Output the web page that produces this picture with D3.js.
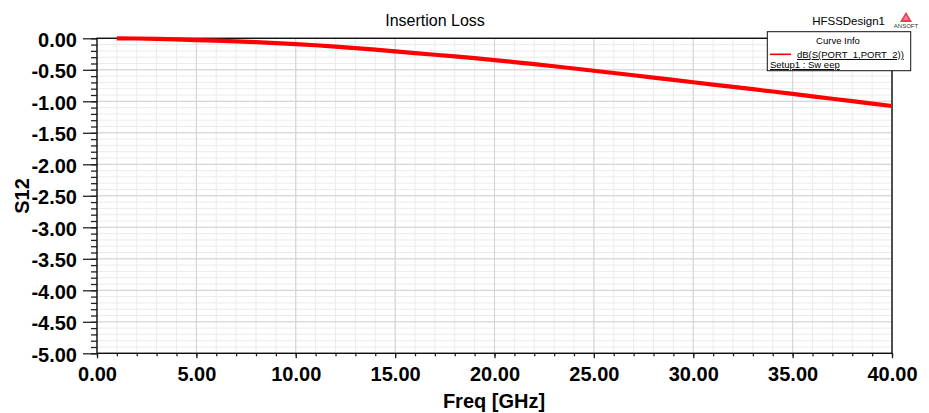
<!DOCTYPE html>
<html>
<head>
  <meta charset="utf-8" />
  <title>Insertion Loss</title>
  <style>
    body { margin: 0; background: #fff; }
    svg { display: block; font-family: Arial, "Liberation Sans", sans-serif; }
  </style>
</head>
<body>
  <svg id="chart" width="929" height="413"></svg>
  <script src="https://cdn.jsdelivr.net/npm/d3@7"></script>
  <script>
    // S12 curve (GHz, dB)
    var freq = [1, 2, 3, 4, 5, 6, 7, 8, 9, 10, 11, 12, 13, 14, 15, 16, 17, 18, 19, 20,
                21, 22, 23, 24, 25, 26, 27, 28, 29, 30, 31, 32, 33, 34, 35, 36, 37, 38, 39, 40]
    var s12 = [0.000, -0.003, -0.008, -0.016, -0.028, -0.038, -0.049, -0.062, -0.076, -0.092,
               -0.110, -0.131, -0.155, -0.181, -0.208, -0.235, -0.261, -0.288, -0.316, -0.345,
               -0.377, -0.410, -0.444, -0.479, -0.515, -0.551, -0.587, -0.623, -0.660, -0.697,
               -0.734, -0.771, -0.808, -0.845, -0.883, -0.921, -0.959, -0.998, -1.036, -1.075]

    var xMajor = [0, 5, 10, 15, 20, 25, 30, 35, 40]
    var yMajor = [0, -0.5, -1, -1.5, -2, -2.5, -3, -3.5, -4, -4.5, -5]
    var xMinor = d3.range(0, 40.01, 1)
    var yMinor = d3.range(0, 51, 1).map(function (i) { return -i / 10 })

    var title = 'Insertion Loss'
    var design = 'HFSSDesign1'
    var legendName = 'dB(S(PORT_1,PORT_2))'
    var legendSetup = 'Setup1 : Sw eep'

    // plot box (window.top is reserved, so prefixed names)
    var pLeft = 97, pRight = 892, pTop = 38.3, pBottom = 353.3
    var svg = d3.select('#chart')

    var x = d3.scaleLinear().domain([0, 40]).range([pLeft, pRight])
    var y = d3.scaleLinear().domain([-5, 0]).range([pBottom, pTop])

    var fmt = function (d) { return d.toFixed(2) }

    // grid: minor first, major on top
    var grid = svg.append('g')
    grid.selectAll('.vmin').data(xMinor).enter().append('line')
      .attr('x1', d => x(d)).attr('x2', d => x(d)).attr('y1', pTop).attr('y2', pBottom)
      .attr('stroke', '#ebebeb').attr('stroke-width', 1)
    grid.selectAll('.hmin').data(yMinor).enter().append('line')
      .attr('y1', d => y(d)).attr('y2', d => y(d)).attr('x1', pLeft).attr('x2', pRight)
      .attr('stroke', '#ebebeb').attr('stroke-width', 1)
    grid.selectAll('.vmaj').data(xMajor).enter().append('line')
      .attr('x1', d => x(d)).attr('x2', d => x(d)).attr('y1', pTop).attr('y2', pBottom)
      .attr('stroke', '#d2d2d2').attr('stroke-width', 1)
    grid.selectAll('.hmaj').data(yMajor).enter().append('line')
      .attr('y1', d => y(d)).attr('y2', d => y(d)).attr('x1', pLeft).attr('x2', pRight)
      .attr('stroke', '#d2d2d2').attr('stroke-width', 1)

    // axes
    svg.append('g').attr('transform', 'translate(' + pLeft + ',0)')
      .call(d3.axisLeft(y).tickValues(yMinor).tickSize(6).tickFormat(''))
    var yAxis = svg.append('g').attr('transform', 'translate(' + pLeft + ',0)')
      .call(d3.axisLeft(y).tickValues(yMajor).tickSize(14).tickPadding(6).tickFormat(fmt))
    svg.append('g').attr('transform', 'translate(0,' + pBottom + ')')
      .call(d3.axisBottom(x).tickValues(xMinor).tickSize(3).tickFormat(''))
    var xAxis = svg.append('g').attr('transform', 'translate(0,' + pBottom + ')')
      .call(d3.axisBottom(x).tickValues(xMajor).tickSize(5).tickPadding(9).tickFormat(fmt))

    svg.selectAll('.domain').remove()
    svg.selectAll('.tick line').attr('stroke', '#222').attr('stroke-width', 1.3)
    yAxis.selectAll('text').attr('font-size', 20).attr('font-weight', 'bold')
      .attr('fill', '#000').attr('dy', '0.4em')
    xAxis.selectAll('text').attr('font-size', 20).attr('font-weight', 'bold').attr('fill', '#000')

    // frame
    svg.append('rect').attr('x', pLeft).attr('y', pTop)
      .attr('width', pRight - pLeft).attr('height', pBottom - pTop)
      .attr('fill', 'none').attr('stroke', '#111').attr('stroke-width', 1.4)

    // curve
    var line = d3.line().x((d, i) => x(freq[i])).y(d => y(d))
    svg.append('path').datum(s12).attr('d', line)
      .attr('fill', 'none').attr('stroke', '#ff0000').attr('stroke-width', 4.2)
      .attr('stroke-linejoin', 'round')

    // titles
    svg.append('text').attr('x', 435).attr('y', 26).attr('text-anchor', 'middle')
      .attr('font-size', 16).attr('fill', '#000').text(title)
    svg.append('text').attr('x', 885).attr('y', 25).attr('text-anchor', 'end')
      .attr('font-size', 11.5).attr('fill', '#000').text(design)
    svg.append('text').attr('transform', 'translate(29,' + 196 + ') rotate(-90)')
      .attr('text-anchor', 'middle').attr('font-size', 20).attr('font-weight', 'bold')
      .attr('fill', '#000').text('S12')
    svg.append('text').attr('x', 494).attr('y', 408).attr('text-anchor', 'middle')
      .attr('font-size', 20).attr('font-weight', 'bold').attr('fill', '#000').text('Freq [GHz]')

    // ansoft logo
    var logo = svg.append('g').attr('transform', 'translate(906,12)')
    logo.append('path').attr('d', 'M0,0 L-6,10 L6,10 Z').attr('fill', '#d44')
    logo.append('path').attr('d', 'M0,3 L-3,8 L3,8 Z').attr('fill', '#f7a')
    logo.append('text').attr('x', 0).attr('y', 16).attr('text-anchor', 'middle')
      .attr('font-size', 6).attr('fill', '#333').text('ANSOFT')

    // legend box
    var lg = svg.append('g')
    lg.append('rect').attr('x', 767.3).attr('y', 31.7).attr('width', 143.4).attr('height', 39)
      .attr('fill', '#fff').attr('stroke', '#111').attr('stroke-width', 1)
    lg.append('text').attr('x', 838).attr('y', 43.5).attr('text-anchor', 'middle')
      .attr('font-size', 9.5).attr('fill', '#000').text('Curve Info')
    lg.append('line').attr('x1', 770).attr('x2', 791).attr('y1', 54.3).attr('y2', 54.3)
      .attr('stroke', '#ff0000').attr('stroke-width', 1.6)
    lg.append('text').attr('x', 797).attr('y', 58).attr('font-size', 9.5)
      .attr('text-decoration', 'underline').attr('fill', '#000').text(legendName)
    lg.append('text').attr('x', 770).attr('y', 68).attr('font-size', 9.5)
      .attr('text-decoration', 'underline').attr('fill', '#000').text(legendSetup)
  </script>
</body>
</html>
